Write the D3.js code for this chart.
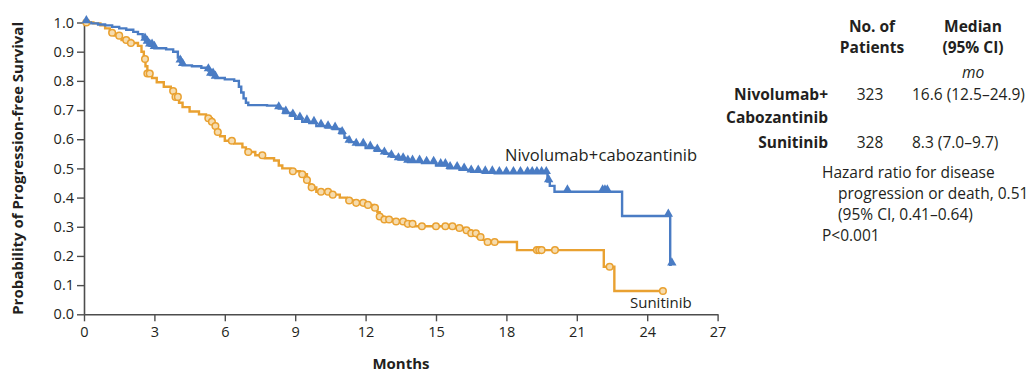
<!DOCTYPE html>
<html>
<head>
<meta charset="utf-8">
<script src="https://cdn.jsdelivr.net/npm/d3@7"></script>
<style>
  html, body { margin: 0; padding: 0; background: #fff; }
  svg { display: block; }
  text { font-family: "Open Sans", Lato, sans-serif; fill: #231f20; }
</style>
</head>
<body>
<svg id="chart" width="1036" height="372"></svg>
<script>
// Kaplan-Meier step data: event time (months) and survival after that event
const nivoTimes = [0, 0.3, 0.6, 0.9, 1.2, 1.5, 1.8, 2.1, 2.3, 2.5, 2.6, 2.7, 2.8, 3.0, 3.5, 3.8, 4.0, 4.1, 4.2, 4.6, 5.0, 5.3, 5.4, 5.6, 6.0, 6.4, 6.6, 6.7, 6.8, 6.9, 7.0, 7.8, 8.3, 8.5, 8.8, 9.0, 9.3, 9.6, 9.9, 10.3, 10.6, 10.9, 11.1, 11.3, 11.6, 12.0, 12.4, 12.8, 13.1, 13.4, 13.8, 14.4, 15.0, 15.5, 16.0, 16.5, 17.0, 17.5, 19.75, 19.85, 20.05, 22.93, 24.98, 25.05];
const nivoSurv  = [1.0, 0.997, 0.993, 0.99, 0.985, 0.98, 0.975, 0.968, 0.96, 0.95, 0.94, 0.93, 0.92, 0.912, 0.908, 0.9, 0.88, 0.865, 0.853, 0.85, 0.845, 0.835, 0.82, 0.81, 0.805, 0.8, 0.78, 0.76, 0.74, 0.725, 0.717, 0.715, 0.705, 0.69, 0.68, 0.67, 0.66, 0.655, 0.645, 0.64, 0.635, 0.62, 0.605, 0.59, 0.58, 0.57, 0.56, 0.55, 0.54, 0.53, 0.522, 0.518, 0.51, 0.5, 0.495, 0.488, 0.485, 0.483, 0.455, 0.44, 0.42, 0.337, 0.17, 0.17];
const nivoCensored = [0.1, 2.6, 2.7, 2.8, 2.9, 3.0, 4.1, 4.2, 5.3, 5.4, 5.5, 5.6, 8.3, 8.6, 8.9, 9.2, 9.5, 9.8, 10.1, 10.4, 10.7, 11.0, 11.3, 11.6, 11.9, 12.2, 12.5, 12.8, 13.1, 13.4, 13.6, 13.8, 14.0, 14.3, 14.6, 14.9, 15.2, 15.4, 15.6, 15.9, 16.2, 16.5, 16.8, 17.1, 17.4, 17.7, 18.0, 18.3, 18.6, 18.9, 19.1, 19.3, 19.5, 19.7, 19.8, 20.6, 22.1, 22.2, 22.3, 24.9, 25.05];

const suniTimes = [0, 0.4, 0.7, 0.9, 1.1, 1.3, 1.6, 2.0, 2.3, 2.45, 2.55, 2.62, 2.7, 2.9, 3.1, 3.4, 3.7, 3.9, 4.05, 4.2, 4.5, 4.9, 5.2, 5.45, 5.55, 5.65, 5.8, 6.0, 6.4, 6.75, 6.9, 7.3, 7.7, 8.1, 8.3, 8.45, 8.8, 9.2, 9.5, 9.6, 9.7, 9.9, 10.5, 10.9, 11.2, 11.6, 12.0, 12.35, 12.5, 12.6, 12.75, 13.2, 13.7, 14.1, 15.8, 16.2, 16.5, 16.75, 16.95, 17.15, 18.45, 22.15, 22.6, 24.67];
const suniSurv  = [1.0, 0.997, 0.99, 0.98, 0.965, 0.955, 0.94, 0.93, 0.92, 0.9, 0.875, 0.85, 0.825, 0.81, 0.795, 0.78, 0.765, 0.745, 0.725, 0.71, 0.695, 0.685, 0.672, 0.66, 0.645, 0.625, 0.61, 0.595, 0.585, 0.572, 0.556, 0.545, 0.535, 0.527, 0.51, 0.5, 0.49, 0.48, 0.46, 0.445, 0.435, 0.42, 0.41, 0.4, 0.39, 0.382, 0.375, 0.365, 0.35, 0.335, 0.325, 0.318, 0.31, 0.302, 0.296, 0.288, 0.278, 0.265, 0.255, 0.248, 0.22, 0.163, 0.08, 0.08];
const suniCensored = [0.1, 1.2, 1.5, 1.8, 2.0, 2.6, 2.7, 2.8, 3.8, 3.9, 4.0, 5.3, 5.45, 5.6, 5.7, 6.3, 7.0, 7.6, 8.9, 9.3, 9.5, 9.7, 10.1, 10.4, 10.6, 11.3, 11.6, 11.9, 12.1, 12.4, 12.6, 12.8, 13.0, 13.3, 13.6, 13.8, 14.0, 14.4, 15.0, 15.4, 15.7, 16.0, 16.3, 16.5, 16.7, 16.9, 17.2, 17.5, 19.3, 19.4, 19.5, 20.07, 22.4, 24.67];

const xTicks = [0, 3, 6, 9, 12, 15, 18, 21, 24, 27];
const yTicks = [0, 0.1, 0.2, 0.3, 0.4, 0.5, 0.6, 0.7, 0.8, 0.9, 1.0];

const blue = "#4a7cc4";
const orange = "#e9a131";

const svg = d3.select("#chart");
const x = d3.scaleLinear().domain([0, 27]).range([84, 717.6]);
const y = d3.scaleLinear().domain([0, 1]).range([314.3, 22.5]);

// survival level in effect at time t (step function)
function survAt(times, survs, t) {
  const i = d3.bisectRight(times, t) - 1;
  return survs[Math.max(0, i)];
}

// axes
const axisColor = "#4d4d4d";
const yAxis = svg.append("g").attr("transform", `translate(${x(0)},0)`)
  .call(d3.axisLeft(y).tickValues(yTicks).tickFormat(d3.format(".1f")).tickSize(7).tickSizeOuter(0).tickPadding(3));
const xAxis = svg.append("g").attr("transform", `translate(0,${y(0)})`)
  .call(d3.axisBottom(x).tickValues(xTicks).tickFormat(d3.format("d")).tickSize(7).tickSizeOuter(0).tickPadding(5));
[xAxis, yAxis].forEach(g => {
  g.select(".domain").attr("stroke", axisColor).attr("stroke-width", 1.6);
  g.selectAll(".tick line").attr("stroke", axisColor).attr("stroke-width", 1.4);
  g.selectAll(".tick text").attr("fill", "#3a3a3a").style("font-family", "'Open Sans', sans-serif").style("font-size", "14.5px");
});

// step curves
const line = d3.line().curve(d3.curveStepAfter).x(d => x(d[0])).y(d => y(d[1]));
const curves = [
  { times: suniTimes, surv: suniSurv, cens: suniCensored, color: orange, mark: "circle" },
  { times: nivoTimes, surv: nivoSurv, cens: nivoCensored, color: blue, mark: "triangle" }
];

curves.forEach(c => {
  svg.append("path")
    .datum(d3.zip(c.times, c.surv))
    .attr("fill", "none")
    .attr("stroke", c.color)
    .attr("stroke-width", 2.4)
    .attr("d", line);
});

curves.forEach(c => {
  const g = svg.append("g");
  if (c.mark === "circle") {
    g.selectAll("circle").data(c.cens).join("circle")
      .attr("cx", t => x(t))
      .attr("cy", t => y(survAt(c.times, c.surv, t)))
      .attr("r", 3.3)
      .attr("fill", "#f6dcae")
      .attr("stroke", c.color)
      .attr("stroke-width", 1.5);
  } else {
    const tri = d3.symbol(d3.symbolTriangle).size(38);
    g.selectAll("path").data(c.cens).join("path")
      .attr("transform", t => `translate(${x(t)},${y(survAt(c.times, c.surv, t)) - 2})`)
      .attr("d", tri)
      .attr("fill", c.color);
  }
});

// curve labels
svg.append("text").attr("x", 505).attr("y", 161).style("font-size", "16.5px").attr("word-spacing", "-4px").text("Nivolumab + cabozantinib");
svg.append("text").attr("x", 630).attr("y", 308).style("font-size", "15px").text("Sunitinib");

// axis titles
svg.append("text").attr("x", 401).attr("y", 369).attr("text-anchor", "middle")
  .style("font-size", "15px").style("font-weight", "bold").text("Months");
svg.append("text").attr("transform", `translate(23,${(y(0) + y(1)) / 2}) rotate(-90)`)
  .attr("text-anchor", "middle").style("font-size", "15px").style("font-weight", "bold")
  .text("Probability of Progression-free Survival");

// summary table
const tbl = svg.append("g").style("font-size", "15.5px");
const headNo = ["No. of", "Patients"];
const headMed = ["Median", "(95% CI)"];
const bold = s => s.style("font-weight", "bold").style("font-size", "15.5px");
headNo.forEach((s, i) => bold(tbl.append("text").attr("x", 872).attr("y", 32 + i * 21).attr("text-anchor", "middle")).text(s));
headMed.forEach((s, i) => bold(tbl.append("text").attr("x", 973).attr("y", 32 + i * 21).attr("text-anchor", "middle")).text(s));
tbl.append("text").attr("x", 973).attr("y", 78).attr("text-anchor", "middle").style("font-style", "italic").text("mo");

const groups = ["Nivolumab+", "Sunitinib"];
const groupBaseline = [100, 148];
const patients = ["323", "328"];
const medians = ["16.6 (12.5–24.9)", "8.3 (7.0–9.7)"];
groups.forEach((gname, i) => {
  bold(tbl.append("text").attr("x", 828).attr("y", groupBaseline[i]).attr("text-anchor", "end")).text(gname);
  tbl.append("text").attr("x", 870).attr("y", groupBaseline[i]).attr("text-anchor", "middle").text(patients[i]);
  tbl.append("text").attr("x", 912).attr("y", groupBaseline[i]).text(medians[i]);
});
bold(tbl.append("text").attr("x", 828).attr("y", 123).attr("text-anchor", "end")).text("Cabozantinib");

const hrLines = [["Hazard ratio for disease", 822], ["progression or death, 0.51", 838], ["(95% CI, 0.41–0.64)", 838], ["P<0.001", 822]];
hrLines.forEach((l, i) => tbl.append("text").attr("x", l[1]).attr("y", 178 + i * 21).text(l[0]));
</script>
</body>
</html>
